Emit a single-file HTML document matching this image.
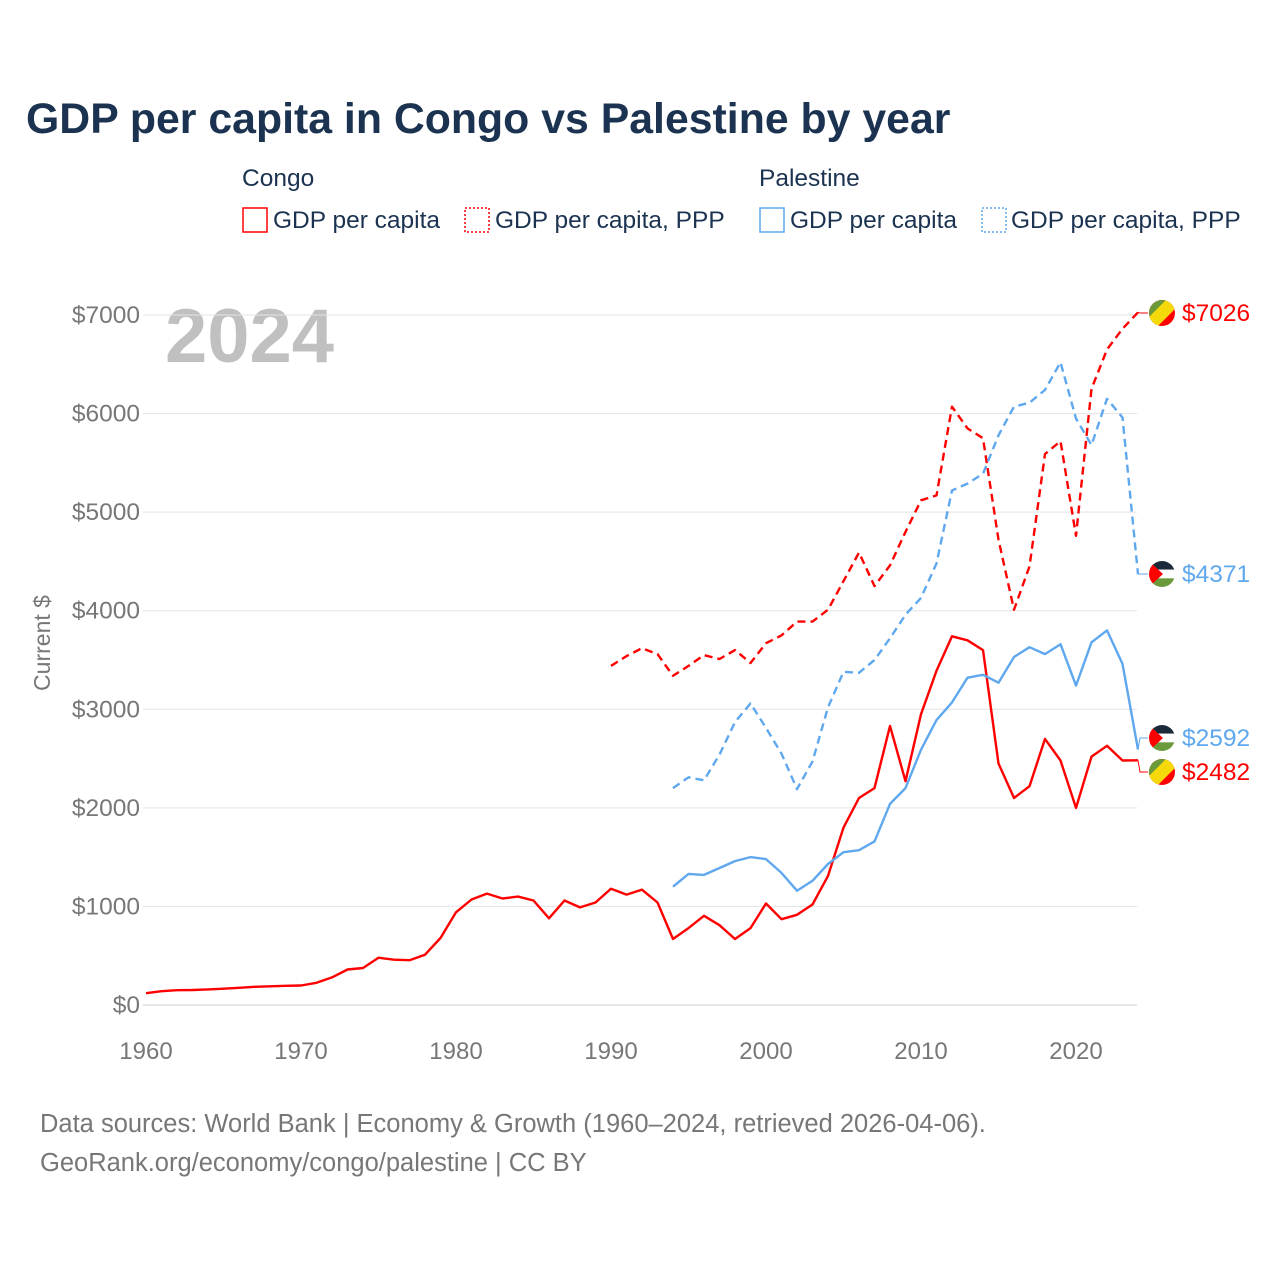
<!DOCTYPE html>
<html><head><meta charset="utf-8"><style>
body{margin:0;background:#fff;font-family:"Liberation Sans",sans-serif;}
svg text{font-family:"Liberation Sans",sans-serif;}
</style></head><body>
<svg width="1280" height="1280" viewBox="0 0 1280 1280">
<text x="26" y="133" font-size="42.8" font-weight="bold" fill="#1b3350">GDP per capita in Congo vs Palestine by year</text>
<g font-size="24.5" fill="#1b3350">
<text x="242" y="186">Congo</text>
<text x="759" y="186">Palestine</text>
<rect x="243" y="208" width="24" height="24" fill="none" stroke="#ff0000" stroke-width="1.5"/>
<text x="273" y="228">GDP per capita</text>
<rect x="465" y="208" width="24" height="24" fill="none" stroke="#ff0000" stroke-width="1.5" stroke-dasharray="2,2"/>
<text x="495" y="228">GDP per capita, PPP</text>
<rect x="760" y="208" width="24" height="24" fill="none" stroke="#5fa8ee" stroke-width="1.5"/>
<text x="790" y="228">GDP per capita</text>
<rect x="982" y="208" width="24" height="24" fill="none" stroke="#5fa8ee" stroke-width="1.5" stroke-dasharray="2,2"/>
<text x="1011" y="228">GDP per capita, PPP</text>
</g>
<text x="165" y="362" font-size="76" font-weight="bold" fill="#c0c0c0">2024</text>
<g id="grid"></g>
<g id="xt"></g>
<text transform="translate(50,643) rotate(-90)" text-anchor="middle" font-size="23" fill="#777">Current $</text>
<g id="series"></g>
<g id="ends"></g>
<text x="40" y="1132" font-size="25.5" fill="#777">Data sources: World Bank | Economy &amp; Growth (1960–2024, retrieved 2026-04-06).</text>
<text x="40" y="1171" font-size="25.5" fill="#777">GeoRank.org/economy/congo/palestine | CC BY</text>
</svg>
<script>
const yTicks=[0,1000,2000,3000,4000,5000,6000,7000];
const xTicks=[1960,1970,1980,1990,2000,2010,2020];
const congoStart=1960;
const congoGdp=[120,140,150,152,158,165,175,185,190,195,198,225,280,360,375,480,460,455,510,680,940,1070,1130,1080,1100,1060,880,1060,990,1040,1180,1120,1170,1040,670,780,905,810,670,780,1030,870,915,1020,1310,1800,2100,2200,2830,2270,2950,3390,3740,3700,3600,2450,2100,2220,2700,2480,2000,2520,2630,2480,2482];
const congoPppStart=1990;
const congoPpp=[3440,3540,3620,3560,3340,3440,3550,3510,3600,3470,3670,3750,3890,3890,4010,4300,4590,4250,4460,4800,5120,5170,6070,5850,5750,4720,4010,4450,5590,5720,4760,6250,6650,6860,7026];
const palStart=1994;
const palGdp=[1200,1330,1320,1390,1460,1500,1480,1340,1160,1260,1430,1550,1570,1660,2040,2200,2590,2890,3070,3320,3350,3270,3530,3630,3560,3660,3240,3680,3800,3460,2592];
const palPpp=[2200,2310,2280,2540,2870,3060,2810,2550,2190,2470,3020,3380,3370,3500,3720,3960,4130,4480,5220,5290,5390,5780,6070,6110,6240,6520,5950,5680,6150,5960,4371];
const NS='http://www.w3.org/2000/svg';
const X=yr=>146+(yr-1960)*15.5;
const Y=v=>1005-v*0.09857;
function mk(t,a,p){const e=document.createElementNS(NS,t);for(const k in a)e.setAttribute(k,a[k]);p.appendChild(e);return e;}
const grid=document.getElementById('grid');
yTicks.forEach(v=>{
 const l=mk('line',{x1:143,x2:1137,y1:Y(v),y2:Y(v),stroke:v===0?'#e6e6e6':'#e3e3e3','stroke-width':v===0?2:1},grid);
 
 
 const t=mk('text',{x:140,y:Y(v)+8,'text-anchor':'end','font-size':24.5,fill:'#777'},grid);
 t.textContent='$'+v;
 
 
});
const xt=document.getElementById('xt');
xTicks.forEach(yr=>{
 const t=mk('text',{x:X(yr),y:1059,'text-anchor':'middle','font-size':24,fill:'#777'},xt);
 t.textContent=yr;
 
 
});
const sg=document.getElementById('series');
function line(arr,start,color,dash,name){
 const d=arr.map((v,i)=>(i?'L':'M')+X(start+i).toFixed(1)+' '+Y(v).toFixed(1)).join(' ');
 const p=mk('path',{d:d,fill:'none',stroke:color,'stroke-width':2.4,'stroke-linejoin':'round'},sg);
 if(dash)p.setAttribute('stroke-dasharray','8,5');
 
 
}
line(congoGdp,congoStart,'#ff0000',false,'congo-gdp-line');
line(congoPpp,congoPppStart,'#ff0000',true,'congo-ppp-line');
line(palGdp,palStart,'#5fa8ee',false,'palestine-gdp-line');
line(palPpp,palStart,'#5fa8ee',true,'palestine-ppp-line');
const ends=document.getElementById('ends');
function end(v,ly,color,flag,name){
 const x0=X(2024);
 mk('path',{d:`M${x0} ${Y(v)} L${x0+2} ${ly} L${x0+10} ${ly}`,fill:'none',stroke:color,'stroke-width':1},ends);
 const g=mk('g',{},ends);
 
 
 const cx=1162,r=13;
 const id='c'+name;
 const cp=mk('clipPath',{id:id},g);mk('circle',{cx:cx,cy:ly,r:r},cp);
 const h=mk('g',{'clip-path':`url(#${id})`},g);
 if(flag==='congo'){
  mk('rect',{x:cx-r,y:ly-r,width:2*r,height:2*r,fill:'#ff0000'},h);
  mk('polygon',{points:`${cx-r},${ly-r} ${cx+r},${ly-r} ${cx-r},${ly+r}`,fill:'#6a9a3a'},h);
  mk('polygon',{points:`${cx+4},${ly-r} ${cx+r},${ly-r} ${cx+r},${ly-4} ${cx-4},${ly+r} ${cx-r},${ly+r} ${cx-r},${ly+4}`,fill:'#f5d90a'},h);
 }else{
  mk('rect',{x:cx-r,y:ly-r,width:2*r,height:2*r/3,fill:'#1b2a3a'},h);
  mk('rect',{x:cx-r,y:ly-r/3,width:2*r,height:2*r/3,fill:'#fff'},h);
  mk('rect',{x:cx-r,y:ly+r/3,width:2*r,height:2*r/3,fill:'#6a9a3a'},h);
  mk('polygon',{points:`${cx-r},${ly-r} ${cx+1},${ly} ${cx-r},${ly+r}`,fill:'#ff0000'},h);
 }
 const t=mk('text',{x:1182,y:ly+8,'font-size':24.5,fill:color},ends);
 t.textContent='$'+v;
 
 
}
end(congoPpp[congoPpp.length-1],313,'#ff0000','congo','congo-ppp');
end(palPpp[palPpp.length-1],574,'#5fa8ee','pal','palestine-ppp');
end(palGdp[palGdp.length-1],738,'#5fa8ee','pal','palestine-gdp');
end(congoGdp[congoGdp.length-1],772,'#ff0000','congo','congo-gdp');
</script>
</body></html>
